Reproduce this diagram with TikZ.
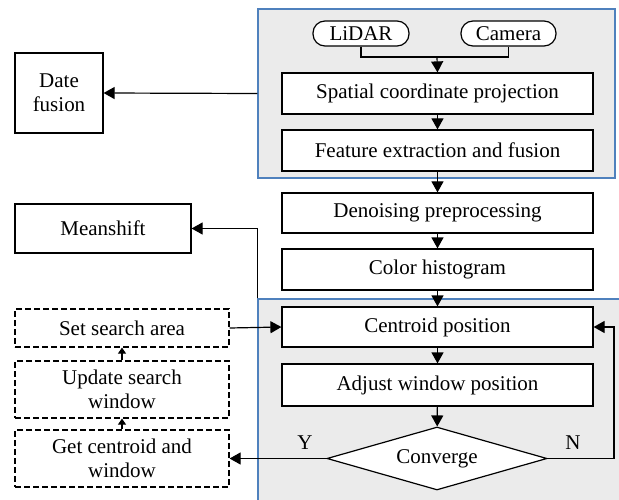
\documentclass[tikz,border=0pt]{standalone}
\usepackage{fontspec}
\setmainfont{Liberation Serif}
\usepackage{xcolor}
\definecolor{panel}{RGB}{235,235,235}
\definecolor{frame}{RGB}{79,129,189}
\usetikzlibrary{positioning, calc, shapes.geometric, shapes.misc, arrows.meta}
\tikzstyle{Box} = [draw, fill=white, line width=1.2pt, inner sep=2pt,
        align=center, font=\fontsize{21}{24}\selectfont]
\tikzstyle{Dash} = [Box, dashed, dash pattern=on 6pt off 3pt]
\tikzstyle{Pill} = [Box, rounded corners=12pt]
\tikzstyle{Group} = [draw=frame, fill=panel, line width=1.2pt]
\tikzstyle{Arrow} = [line width=1.2pt, -{Triangle[length=11pt,width=12pt]}]
\tikzstyle{Small} = [line width=1.2pt, -{Triangle[length=6pt,width=8pt]}]
\tikzstyle{Lab} = [font=\fontsize{21}{24}\selectfont]

\begin{document}
\begin{tikzpicture}[x=1pt, y=-1pt]
        \useasboundingbox (0,0) rectangle (619,500);
        % grey panels
        \node [Group, minimum width=357, minimum height=169] (top) at (436.5,93.5) {};
        \node [Group, minimum width=372, minimum height=211] (low) at (444,404.5) {};

        \node [Pill, minimum width=96, minimum height=25] (1) at (361,33.5) {LiDAR};
        \node [Pill, minimum width=95, minimum height=25] (2) at (508.5,33.5) {Camera};
        \coordinate (j) at (437,57);
        \node [Box, minimum width=311, minimum height=41] (3) at (437.5,93.5) {Spatial coordinate projection};
        \node [Box, minimum width=311, minimum height=41] (4) at (437.5,150.5) {Feature extraction and fusion};
        \node [Box, minimum width=311, minimum height=40] (5) at (437.5,213) {Denoising preprocessing};
        \node [Box, minimum width=311, minimum height=41] (6) at (437.5,269.5) {Color histogram};
        \node [Box, minimum width=311, minimum height=40] (7) at (437.5,327) {Centroid position};
        \node [Box, minimum width=311, minimum height=42] (8) at (437.5,385) {Adjust window position};
        \node [Box, diamond, aspect=3.49, inner sep=0pt, minimum width=220, minimum height=63] (9) at (437,458.5) {Converge};
        \coordinate (n) at (614,458.5);

        \node [Box, minimum width=88, minimum height=80] (10) at (59,93) {Date\\fusion};
        \node [Box, minimum width=176, minimum height=49] (11) at (103,228.5) {Meanshift};
        \node [Dash, minimum width=214, minimum height=38] (12) at (122,328) {Set search area};
        \node [Dash, minimum width=214, minimum height=57] (13) at (122,389.5) {Update search\\window};
        \node [Dash, minimum width=214, minimum height=57] (14) at (122,458.5) {Get centroid and\\window};

        \node [Lab] at (305,443) {Y};
        \node [Lab] at (573,443) {N};

        \draw [line width=1.2pt] (1.south) |- (j) -| (2.south);
        \draw [Arrow] (j) -- (3.north);
        \draw [Arrow] (3) -- (4);
        \draw [Arrow] (4) -- (5);
        \draw [Arrow] (5) -- (6);
        \draw [Arrow] (6) -- (7);
        \draw [Arrow] (7) -- (8);
        \draw [Arrow] (8) -- (9);
        \draw [Arrow] (9.east) -- (n) |- (7.east);
        \draw [Arrow] (9.west) -- (14.east);
        \draw [Arrow] (12.east) -- (7.west);
        \draw [Small] (14) -- (13);
        \draw [Small] (13) -- (12);
        \draw [Arrow] (top.west) -- (10.east);
        \draw [Arrow] (low.north west) |- (11.east);
    \end{tikzpicture}
\end{document}
